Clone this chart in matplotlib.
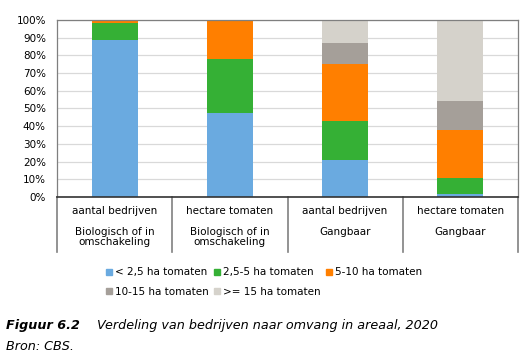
import matplotlib
matplotlib.use("Agg")
import matplotlib.pyplot as plt
import matplotlib.transforms as mtransforms
from matplotlib.lines import Line2D
import numpy as np

# Data (percent shares per size class)
measures = ["aantal bedrijven", "hectare tomaten", "aantal bedrijven", "hectare tomaten"]
groups = ["Biologisch of in\nomschakeling", "Biologisch of in\nomschakeling", "Gangbaar", "Gangbaar"]
series_labels = ["< 2,5 ha tomaten", "2,5-5 ha tomaten", "5-10 ha tomaten",
                 "10-15 ha tomaten", ">= 15 ha tomaten"]
lt_2_5 = [88.7, 47.5, 20.9, 1.5]
s_2_5_5 = [9.8, 30.7, 22.2, 9.4]
s_5_10 = [1.5, 21.8, 32.2, 27.0]
s_10_15 = [0.0, 0.0, 11.9, 16.5]
ge_15 = [0.0, 0.0, 12.8, 45.6]
series = [lt_2_5, s_2_5_5, s_5_10, s_10_15, ge_15]
colors = ["#6aaae0", "#35b035", "#ff7f00", "#a59f99", "#d5d2cb"]

W, H = 527, 356
fig = plt.figure(figsize=(W / 100, H / 100), dpi=100)
plt.rcParams["font.family"] = "DejaVu Sans"
FS = 7.5

ax = fig.add_axes([57 / W, 1 - 197 / H, 461 / W, 177 / H])
x = np.arange(len(measures))
bottom = np.zeros(len(measures))
for vals, col, lab in zip(series, colors, series_labels):
    ax.bar(x, vals, bottom=bottom, width=0.4, color=col, label=lab, zorder=2)
    bottom += np.array(vals)

ax.set_xlim(-0.5, len(measures) - 0.5)
ax.set_ylim(0, 100)
ax.set_yticks(np.arange(0, 101, 10))
ax.set_yticklabels([f"{v}%" for v in range(0, 101, 10)], fontsize=FS)
ax.tick_params(axis="y", length=0, pad=8)
ax.set_xticks([])
ax.grid(axis="y", color="#d9d9d9", linewidth=0.9, zorder=0)
for s in ["top", "right", "left"]:
    ax.spines[s].set_color("#7f7f7f")
    ax.spines[s].set_linewidth(0.9)
ax.spines["bottom"].set_color("#333333")
ax.spines["bottom"].set_linewidth(1.2)

# category labels below axis
trans = mtransforms.blended_transform_factory(ax.transData, fig.transFigure)
for i, (m, g) in enumerate(zip(measures, groups)):
    ax.text(i, 1 - 211 / H, m, transform=trans, ha="center", va="center", fontsize=FS)
    ax.text(i, 1 - 227 / H, g, transform=trans, ha="center", va="top", fontsize=FS,
            linespacing=1.05)
for b in np.arange(-0.5, len(measures), 1.0):
    ax.add_line(Line2D([b, b], [1 - 197 / H, 1 - 252 / H], transform=trans,
                       color="#808080", linewidth=1.2, clip_on=False))

# legend, row-major order
handles = [Line2D([], [], marker="s", linestyle="none", markersize=4.2,
                  markerfacecolor=c, markeredgecolor=c) for c in colors]
order = [0, 3, 1, 4, 2]
fig.legend([handles[i] for i in order], [series_labels[i] for i in order],
           ncol=3, loc="upper left", bbox_to_anchor=(101 / W, 1 - 262 / H),
           frameon=False, fontsize=FS, handlelength=0.6, handletextpad=0.25,
           columnspacing=0.5, labelspacing=0.95, borderpad=0)

# caption
fig.text(6 / W, 1 - 325 / H, "Figuur 6.2", fontsize=9.2, fontweight="bold",
         fontstyle="italic", va="center")
fig.text(97 / W, 1 - 325 / H, "Verdeling van bedrijven naar omvang in areaal, 2020",
         fontsize=9.2, fontstyle="italic", va="center")
fig.text(6 / W, 1 - 346 / H, "Bron: CBS.", fontsize=9.2, fontstyle="italic", va="center")

fig.savefig("out.png", dpi=100)
